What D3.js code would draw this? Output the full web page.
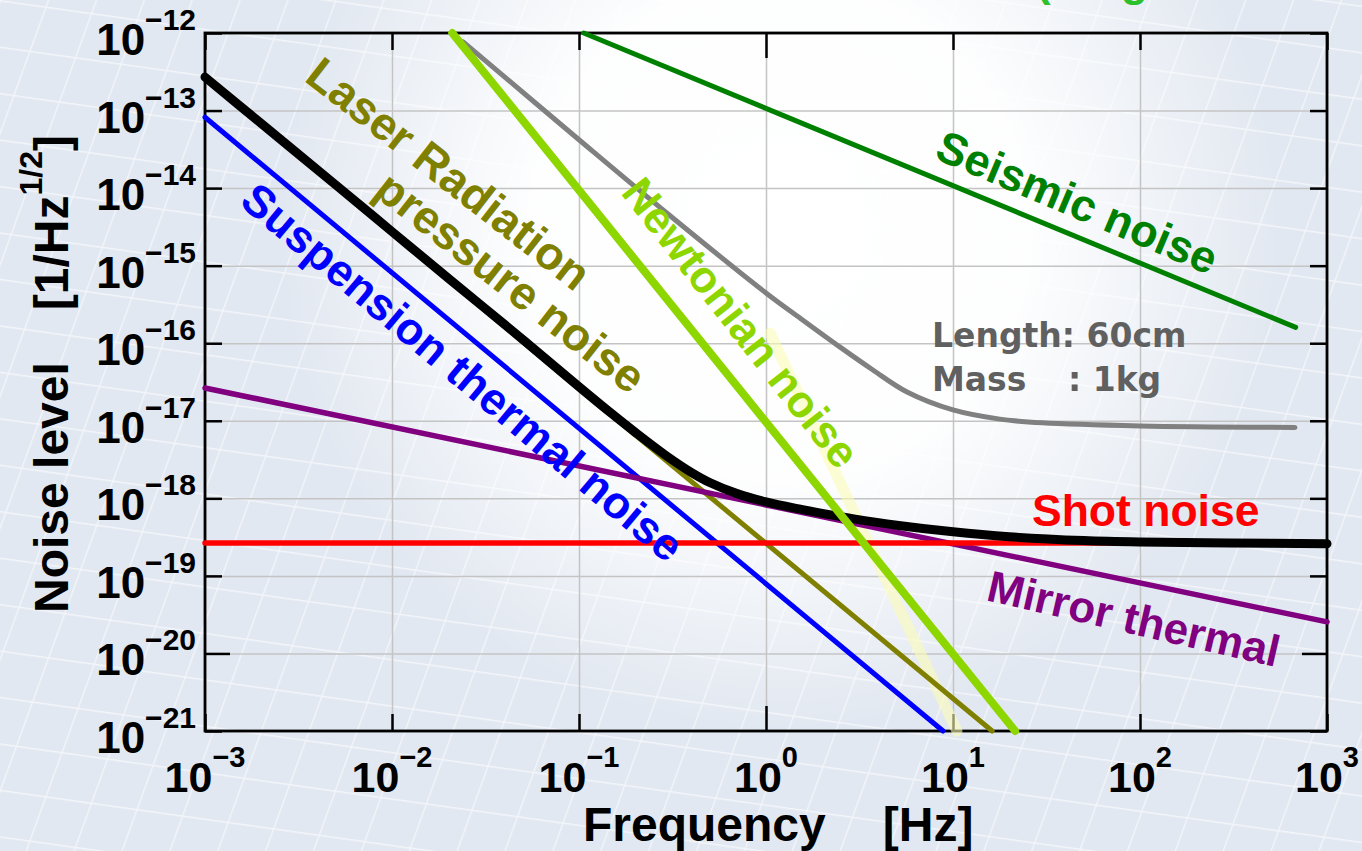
<!DOCTYPE html>
<html>
<head>
<meta charset="utf-8">
<script src="https://cdn.jsdelivr.net/npm/d3@7"></script>
<style>
  html, body { margin: 0; padding: 0; background: #e2e8f1; }
  svg { display: block; }
  text { font-family: "Liberation Sans", Arial, Helvetica, sans-serif; font-weight: bold; }
  text.note { font-family: "DejaVu Sans", sans-serif; }
</style>
</head>
<body>
<div id="chart"></div>
<script>
var width = 1362, height = 851;
var margin = {top: 33, right: 35, bottom: 120, left: 205};

// axis ticks
var freqTicks = [1e-3, 1e-2, 1e-1, 1, 1e1, 1e2, 1e3];
var freqExps = ["−3", "−2", "−1", "0", "1", "2", "3"];
var levelTicks = [1e-21, 1e-20, 1e-19, 1e-18, 1e-17, 1e-16, 1e-15, 1e-14, 1e-13, 1e-12];
var levelExps = ["−21", "−20", "−19", "−18", "−17", "−16", "−15", "−14", "−13", "−12"];

// noise curves: frequency [Hz] / noise level [1/Hz^1/2]
var totalFreq = [0.001, 0.002, 0.005, 0.01, 0.02, 0.05, 0.1, 0.15, 0.2, 0.3, 0.4, 0.5, 0.7, 1, 1.5, 2, 3, 5, 10, 20, 50, 100, 300, 1000];
var totalNoise = [2.7e-13, 6.8e-14, 1.1e-14, 2.75e-15, 6.9e-16, 1.12e-16, 2.75e-17, 1.23e-17, 7.1e-18, 3.4e-18, 2.15e-18, 1.6e-18, 1.15e-18, 9.0e-19, 7.3e-19, 6.4e-19, 5.4e-19, 4.5e-19, 3.7e-19, 3.2e-19, 2.85e-19, 2.73e-19, 2.65e-19, 2.6e-19];

var suspFreq = [0.001, 8.85];
var suspNoise = [8.2e-14, 1.0e-21];

var radFreq = [0.001, 16.2];
var radNoise = [2.62e-13, 1.0e-21];

var mirrorFreq = [0.001, 1000];
var mirrorNoise = [2.65e-17, 2.55e-20];

var shotFreq = [0.001, 1000];
var shotNoise = [2.66e-19, 2.66e-19];

var newtonFreq = [0.021, 21.5];
var newtonNoise = [1.0e-12, 1.0e-21];

var seismicFreq = [0.106, 680];
var seismicNoise = [1.0e-12, 1.6e-16];

var grayFreq = [0.024, 0.1, 0.307, 1, 1.52, 2.49, 3.73, 5.68, 10, 17.8, 30, 100, 674];
var grayNoise = [7.7e-13, 4.2e-14, 4.4e-15, 4.45e-16, 2.11e-16, 8.9e-17, 4.52e-17, 2.35e-17, 1.38e-17, 1.05e-17, 9.4e-18, 8.57e-18, 8.2e-18];

var bandFreq = [1.05, 10.5];
var bandNoise = [1.35e-16, 1.0e-21];

var svg = d3.select("#chart")
  .append("svg")
  .attr("width", width)
  .attr("height", height);

// background
var defs = svg.append("defs");
var glow = defs.append("radialGradient")
  .attr("id", "glow")
  .attr("gradientUnits", "userSpaceOnUse")
  .attr("cx", 780).attr("cy", 230).attr("r", 500);
glow.append("stop").attr("offset", "0").attr("stop-color", "#fff").attr("stop-opacity", 1);
glow.append("stop").attr("offset", "0.5").attr("stop-color", "#fff").attr("stop-opacity", 0.95);
glow.append("stop").attr("offset", "1").attr("stop-color", "#fff").attr("stop-opacity", 0);

var mesh = defs.append("pattern")
  .attr("id", "mesh")
  .attr("patternUnits", "userSpaceOnUse")
  .attr("width", 46).attr("height", 46)
  .attr("patternTransform", "rotate(8) skewX(-12)");
mesh.append("path")
  .attr("d", "M0,0.7H46M0.7,0V46")
  .attr("stroke", "#fff")
  .attr("stroke-width", 1.3)
  .attr("fill", "none");

svg.append("rect").attr("width", width).attr("height", height).attr("fill", "#e2e8f1");
svg.append("rect").attr("width", width).attr("height", height).attr("fill", "url(#mesh)").attr("opacity", 0.6);
svg.append("rect").attr("width", width).attr("height", height).attr("fill", "url(#glow)");

// scales
var x = d3.scaleLog()
  .domain([1e-3, 1e3])
  .range([margin.left, width - margin.right]);

var y = d3.scaleLog()
  .domain([1e-21, 1e-12])
  .range([height - margin.bottom, margin.top]);

var plotW = width - margin.left - margin.right;
var plotH = height - margin.top - margin.bottom;

// grid
svg.append("g")
  .attr("transform", `translate(0,${height - margin.bottom})`)
  .call(d3.axisBottom(x).tickValues(freqTicks).tickSize(-plotH).tickFormat(""))
  .call(g => g.select(".domain").remove())
  .selectAll("line")
  .attr("stroke", "#c4c4c4")
  .attr("stroke-width", 1.5);

svg.append("g")
  .attr("transform", `translate(${margin.left},0)`)
  .call(d3.axisLeft(y).tickValues(levelTicks).tickSize(-plotW).tickFormat(""))
  .call(g => g.select(".domain").remove())
  .selectAll("line")
  .attr("stroke", "#c4c4c4")
  .attr("stroke-width", 1.5);

// inward ticks on all sides
function tickLen(d) { return (d === 1 || d === 1e-20) ? 25 : 17; }

svg.append("g")
  .attr("transform", `translate(0,${height - margin.bottom})`)
  .call(d3.axisBottom(x).tickValues(freqTicks).tickSizeOuter(0).tickFormat(""))
  .call(g => g.select(".domain").remove())
  .selectAll("line")
  .attr("y2", d => -tickLen(d))
  .attr("stroke", "#000").attr("stroke-width", 2.5);

svg.append("g")
  .attr("transform", `translate(0,${margin.top})`)
  .call(d3.axisTop(x).tickValues(freqTicks).tickSizeOuter(0).tickFormat(""))
  .call(g => g.select(".domain").remove())
  .selectAll("line")
  .attr("y2", d => tickLen(d))
  .attr("stroke", "#000").attr("stroke-width", 2.5);

svg.append("g")
  .attr("transform", `translate(${margin.left},0)`)
  .call(d3.axisLeft(y).tickValues(levelTicks).tickSizeOuter(0).tickFormat(""))
  .call(g => g.select(".domain").remove())
  .selectAll("line")
  .attr("x2", d => tickLen(d))
  .attr("stroke", "#000").attr("stroke-width", 2.5);

svg.append("g")
  .attr("transform", `translate(${width - margin.right},0)`)
  .call(d3.axisRight(y).tickValues(levelTicks).tickSizeOuter(0).tickFormat(""))
  .call(g => g.select(".domain").remove())
  .selectAll("line")
  .attr("x2", d => -tickLen(d))
  .attr("stroke", "#000").attr("stroke-width", 2.5);

// frame
svg.append("rect")
  .attr("x", margin.left).attr("y", margin.top)
  .attr("width", plotW).attr("height", plotH)
  .attr("fill", "none")
  .attr("stroke", "#000")
  .attr("stroke-width", 2.8);

// tick labels
svg.append("g").selectAll("text")
  .data(freqTicks)
  .enter()
  .append("text")
  .attr("x", d => x(d))
  .attr("y", height - margin.bottom + 61)
  .attr("text-anchor", "middle")
  .attr("fill", "#000")
  .each(function(d, i) {
    var t = d3.select(this);
    t.append("tspan").attr("font-size", 43).text("10");
    t.append("tspan").attr("font-size", 29).attr("dy", -25).text(freqExps[i]);
  });

svg.append("g").selectAll("text")
  .data(levelTicks)
  .enter()
  .append("text")
  .attr("x", margin.left - 9)
  .attr("y", d => y(d) + 22)
  .attr("text-anchor", "end")
  .attr("fill", "#000")
  .each(function(d, i) {
    var t = d3.select(this);
    t.append("tspan").attr("font-size", 44).text("10");
    t.append("tspan").attr("font-size", 30).attr("dy", -25).text(levelExps[i]);
  });

// axis titles
var xTitle = svg.append("text")
  .attr("x", 583).attr("y", 841)
  .attr("font-size", 48)
  .attr("fill", "#000");
xTitle.append("tspan").text("Frequency");
xTitle.append("tspan").attr("dx", 57).text("[Hz]");

var yTitle = svg.append("text")
  .attr("transform", "translate(68,613) rotate(-90)")
  .attr("font-size", 48)
  .attr("fill", "#000");
yTitle.append("tspan").text("Noise level");
yTitle.append("tspan").attr("dx", 52).text("[1/Hz");
yTitle.append("tspan").attr("font-size", 32).attr("dy", -26).text("1/2");
yTitle.append("tspan").attr("dy", 26).text("]");

// curves
var line = d3.line()
  .x(d => x(d[0]))
  .y(d => y(d[1]))
  .curve(d3.curveCatmullRom.alpha(0.5));

function drawCurve(fs, vs, color, w, op) {
  svg.append("path")
    .datum(d3.zip(fs, vs))
    .attr("d", line)
    .attr("fill", "none")
    .attr("stroke", color)
    .attr("stroke-width", w)
    .attr("stroke-linecap", "round")
    .attr("stroke-linejoin", "round")
    .attr("opacity", op || 1);
}

drawCurve(bandFreq, bandNoise, "#fbfbb8", 11, 0.6);
drawCurve(suspFreq, suspNoise, "#0000ff", 5);
drawCurve(radFreq, radNoise, "#808000", 5);
drawCurve(mirrorFreq, mirrorNoise, "#800080", 5.5);
drawCurve(shotFreq, shotNoise, "#ff0000", 5.5);
drawCurve(totalFreq, totalNoise, "#000000", 9);
drawCurve(grayFreq, grayNoise, "#808080", 5);
drawCurve(seismicFreq, seismicNoise, "#008000", 5);
drawCurve(newtonFreq, newtonNoise, "#8ed600", 8);

// curve labels
var labels = [
  {text: "Laser Radiation", x: 303, y: 80, rot: 38, size: 46, color: "#808000"},
  {text: "pressure noise", x: 372, y: 194, rot: 38, size: 46, color: "#808000"},
  {text: "Suspension thermal noise", x: 238, y: 204, rot: 40, size: 45, color: "#0000ff"},
  {text: "Newtonian noise", x: 620, y: 193, rot: 52, size: 44.5, color: "#8ed600"},
  {text: "Seismic noise", x: 933, y: 158, rot: 23, size: 45, color: "#008000"},
  {text: "Mirror thermal", x: 985, y: 600, rot: 13, size: 44, color: "#800080"},
  {text: "Shot noise", x: 1032, y: 526, rot: 0, size: 44.5, color: "#ff0000"}
];

svg.append("g").selectAll("text")
  .data(labels)
  .enter()
  .append("text")
  .attr("transform", d => `translate(${d.x},${d.y}) rotate(${d.rot})`)
  .attr("font-size", d => d.size)
  .attr("fill", d => d.color)
  .text(d => d.text);

// parameter note
var note = svg.append("g")
  .attr("fill", "#606060")
  .attr("font-size", 33);
note.append("text").attr("class", "note").attr("x", 932).attr("y", 347).text("Length: 60cm");
note.append("text").attr("class", "note").attr("x", 932).attr("y", 391).text("Mass");
note.append("text").attr("class", "note").attr("x", 1068).attr("y", 391).text(": 1kg");

// title fragment cut off at the top edge, as in the original
svg.append("text").attr("x", 1036).attr("y", -4).attr("font-size", 44).attr("fill", "#2cc02c").text("(");
svg.append("text").attr("x", 1121).attr("y", -4).attr("font-size", 44).attr("fill", "#2cc02c").text("g");
</script>
</body>
</html>
